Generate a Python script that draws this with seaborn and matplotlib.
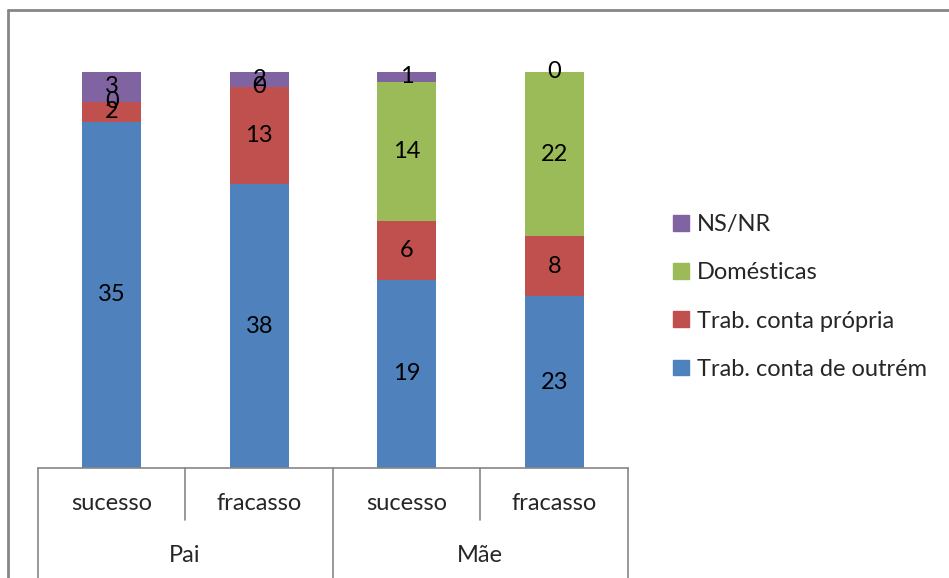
import numpy as np
import pandas as pd
import matplotlib
matplotlib.use("Agg")
import matplotlib.pyplot as plt
import seaborn as sns
from matplotlib.lines import Line2D
from matplotlib.patches import Patch

groups = ["Pai", "Pai", "Mãe", "Mãe"]
outcomes = ["sucesso", "fracasso", "sucesso", "fracasso"]
series = ["Trab. conta de outrém", "Trab. conta própria", "Domésticas", "NS/NR"]
outrem = [35, 38, 19, 23]
propria = [2, 13, 6, 8]
domesticas = [0, 0, 14, 22]
nsnr = [3, 2, 1, 0]
colors = ["#4F81BD", "#C0504D", "#9BBB59", "#8064A2"]

sns.set_theme(style="white")
plt.rcParams["font.family"] = ["Lato", "DejaVu Sans"]

vals = np.array([outrem, propria, domesticas, nsnr], dtype=float)
totals = vals.sum(axis=0)
pct = vals / totals * 100
cum = np.cumsum(pct, axis=0)

xlabels = [f"{g}|{o}|{i}" for i, (g, o) in enumerate(zip(groups, outcomes))]

fig = plt.figure(figsize=(9.49, 5.78), dpi=100)
ax = fig.add_axes([38 / 949, 110 / 578, 590 / 949, 396 / 578])

for k in range(len(series) - 1, -1, -1):
    df = pd.DataFrame({"cat": xlabels, "val": cum[k]})
    sns.barplot(data=df, x="cat", y="val", color=colors[k], width=0.4,
                saturation=1, ax=ax, linewidth=0, order=xlabels)

FS = 17
for j in range(len(xlabels)):
    for k in range(len(series)):
        bottom = cum[k - 1][j] if k > 0 else 0
        yc = bottom + pct[k][j] / 2
        ax.text(j, yc, f"{int(vals[k][j])}", ha="center", va="center",
                fontsize=FS, color="black")

ax.set_ylim(0, 100)
ax.set_xlim(-0.5, 3.5)
ax.set_xticks([])
ax.set_yticks([])
ax.set_xlabel("")
ax.set_ylabel("")
for s in ["top", "right", "left"]:
    ax.spines[s].set_visible(False)
ax.spines["bottom"].set_color("#868686")
ax.spines["bottom"].set_linewidth(1.2)

def fy(py):
    return 1 - py / 578
def fx(px):
    return px / 949

lc = "#868686"
for px in [38, 333, 628]:
    fig.add_artist(Line2D([fx(px), fx(px)], [fy(468), fy(578)], color=lc, lw=1.2))
for px in [185, 480]:
    fig.add_artist(Line2D([fx(px), fx(px)], [fy(468), fy(520)], color=lc, lw=1.2))
for j, o in enumerate(outcomes):
    cx = 38 + 147.5 * (j + 0.5)
    fig.text(fx(cx), fy(504), o, ha="center", va="center", fontsize=FS)
for g, cx in [("Pai", 185), ("Mãe", 480)]:
    fig.text(fx(cx), fy(555), g, ha="center", va="center", fontsize=FS)

fig.add_artist(Line2D([fx(8), fx(949)], [fy(10), fy(10)], color="#868686", lw=2))
fig.add_artist(Line2D([fx(8), fx(8)], [fy(10), fy(578)], color="#868686", lw=2))

handles = [Patch(color=colors[k], label=series[k]) for k in range(len(series) - 1, -1, -1)]
fig.legend(handles=handles, loc="center left", bbox_to_anchor=(fx(652), fy(297)),
           frameon=False, fontsize=FS, handlelength=0.65, handleheight=0.65,
           handletextpad=0.35, labelspacing=1.15)

fig.savefig("out.png", dpi=100)
